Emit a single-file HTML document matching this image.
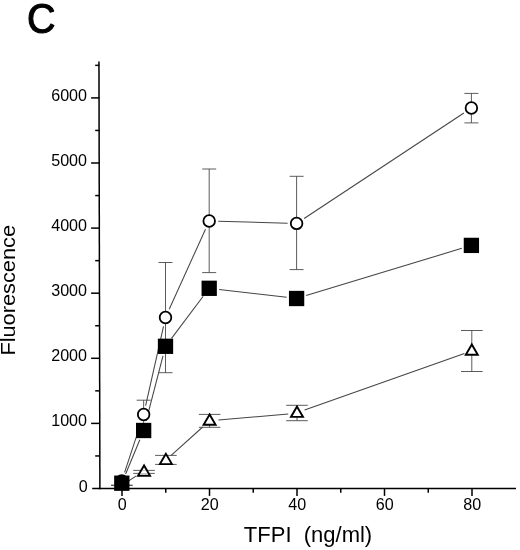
<!DOCTYPE html>
<html><head><meta charset="utf-8"><title>C</title>
<style>
html,body{margin:0;padding:0;background:#fff;}
body{width:520px;height:550px;overflow:hidden;font-family:"Liberation Sans",sans-serif;}
svg{display:block;will-change:transform;}
text{font-family:"Liberation Sans",sans-serif;fill:#000;}
</style></head><body>
<svg width="520" height="550" viewBox="0 0 520 550">
<rect width="520" height="550" fill="#fff"/>

<text transform="translate(26.9,33.4) scale(0.985,1.078)" font-size="40" stroke="#000" stroke-width="1.1" stroke-linejoin="round">C</text>
<g stroke="#000" stroke-width="1.5" fill="none">
<line x1="98.95" y1="61.4" x2="99.9" y2="489.25"/>
<line x1="98.7" y1="488.5" x2="516" y2="488.5"/>
<line x1="92.2" y1="488.50" x2="99.4" y2="488.50"/>
<line x1="95.2" y1="455.95" x2="99.4" y2="455.95"/>
<line x1="91.1" y1="423.40" x2="99.4" y2="423.40"/>
<line x1="95.2" y1="390.85" x2="99.4" y2="390.85"/>
<line x1="91.1" y1="358.30" x2="99.4" y2="358.30"/>
<line x1="95.2" y1="325.75" x2="99.4" y2="325.75"/>
<line x1="91.1" y1="293.20" x2="99.4" y2="293.20"/>
<line x1="95.2" y1="260.65" x2="99.4" y2="260.65"/>
<line x1="91.1" y1="228.10" x2="99.4" y2="228.10"/>
<line x1="95.2" y1="195.55" x2="99.4" y2="195.55"/>
<line x1="91.1" y1="163.00" x2="99.4" y2="163.00"/>
<line x1="95.2" y1="130.45" x2="99.4" y2="130.45"/>
<line x1="91.1" y1="97.90" x2="99.4" y2="97.90"/>
<line x1="95.2" y1="65.35" x2="99.4" y2="65.35"/>
<line x1="122.00" y1="488.5" x2="122.00" y2="495.9"/>
<line x1="165.75" y1="488.5" x2="165.75" y2="492.7"/>
<line x1="209.50" y1="488.5" x2="209.50" y2="495.9"/>
<line x1="253.25" y1="488.5" x2="253.25" y2="492.7"/>
<line x1="297.00" y1="488.5" x2="297.00" y2="495.9"/>
<line x1="340.75" y1="488.5" x2="340.75" y2="492.7"/>
<line x1="384.50" y1="488.5" x2="384.50" y2="495.9"/>
<line x1="428.25" y1="488.5" x2="428.25" y2="492.7"/>
<line x1="472.00" y1="488.5" x2="472.00" y2="495.9"/>
</g>
<text x="87.8" y="491.90" font-size="16.1" text-anchor="end">0</text>
<text x="87" y="426.20" font-size="16.1" text-anchor="end">1000</text>
<text x="87" y="361.10" font-size="16.1" text-anchor="end">2000</text>
<text x="87" y="296.00" font-size="16.1" text-anchor="end">3000</text>
<text x="87" y="230.90" font-size="16.1" text-anchor="end">4000</text>
<text x="87" y="165.80" font-size="16.1" text-anchor="end">5000</text>
<text x="87" y="100.70" font-size="16.1" text-anchor="end">6000</text>
<text x="122.30" y="510.1" font-size="16.1" text-anchor="middle">0</text>
<text x="209.80" y="510.1" font-size="16.1" text-anchor="middle">20</text>
<text x="297.30" y="510.1" font-size="16.1" text-anchor="middle">40</text>
<text x="384.80" y="510.1" font-size="16.1" text-anchor="middle">60</text>
<text x="472.30" y="510.1" font-size="16.1" text-anchor="middle">80</text>
<text transform="translate(15.2,290.3) rotate(-90) scale(1.1,1)" font-size="19.8" text-anchor="middle">Fluorescence</text>
<text x="308" y="542.3" font-size="22" text-anchor="middle" xml:space="preserve">TFPI  (ng/ml)</text>
<line x1="122" y1="485.3" x2="136.3" y2="475.9" stroke="#454545" stroke-width="1.05"/>
<line x1="170.9" y1="455.6" x2="202.7" y2="427.0" stroke="#454545" stroke-width="1.05"/>
<line x1="218.4" y1="420.1" x2="288.2" y2="413.9" stroke="#454545" stroke-width="1.05"/>
<line x1="304.6" y1="410.1" x2="464.4" y2="353.6" stroke="#454545" stroke-width="1.05"/>
<line x1="124.61" y1="472.45" x2="140.84" y2="423.05" stroke="#454545" stroke-width="1.05"/>
<line x1="145.63" y1="405.72" x2="163.52" y2="326.28" stroke="#454545" stroke-width="1.05"/>
<line x1="169.21" y1="309.30" x2="205.49" y2="229.20" stroke="#454545" stroke-width="1.05"/>
<line x1="218.20" y1="221.25" x2="287.60" y2="223.15" stroke="#454545" stroke-width="1.05"/>
<line x1="304.11" y1="218.44" x2="463.89" y2="112.96" stroke="#454545" stroke-width="1.05"/>
<line x1="125.63" y1="473.96" x2="139.82" y2="439.74" stroke="#454545" stroke-width="1.05"/>
<line x1="146.16" y1="420.82" x2="162.99" y2="355.98" stroke="#454545" stroke-width="1.05"/>
<line x1="171.52" y1="338.31" x2="203.18" y2="296.29" stroke="#454545" stroke-width="1.05"/>
<line x1="219.13" y1="289.46" x2="286.67" y2="297.34" stroke="#454545" stroke-width="1.05"/>
<line x1="306.17" y1="295.59" x2="461.83" y2="248.31" stroke="#454545" stroke-width="1.05"/>
<line x1="121.80" y1="485.3" x2="121.80" y2="485.3" stroke="#4a4a4a" stroke-width="0.9"/>
<line x1="111.00" y1="485.3" x2="132.60" y2="485.3" stroke="#4a4a4a" stroke-width="0.9"/>
<line x1="111.00" y1="485.3" x2="132.60" y2="485.3" stroke="#4a4a4a" stroke-width="0.9"/>
<line x1="144.05" y1="470.4" x2="144.05" y2="473.4" stroke="#4a4a4a" stroke-width="0.9"/>
<line x1="133.25" y1="470.4" x2="154.85" y2="470.4" stroke="#4a4a4a" stroke-width="0.9"/>
<line x1="133.25" y1="473.4" x2="154.85" y2="473.4" stroke="#4a4a4a" stroke-width="0.9"/>
<line x1="165.90" y1="455.4" x2="165.90" y2="464.4" stroke="#4a4a4a" stroke-width="0.9"/>
<line x1="155.10" y1="455.4" x2="176.70" y2="455.4" stroke="#4a4a4a" stroke-width="0.9"/>
<line x1="155.10" y1="464.4" x2="176.70" y2="464.4" stroke="#4a4a4a" stroke-width="0.9"/>
<line x1="209.60" y1="414.4" x2="209.60" y2="427.3" stroke="#4a4a4a" stroke-width="0.9"/>
<line x1="198.80" y1="414.4" x2="220.40" y2="414.4" stroke="#4a4a4a" stroke-width="0.9"/>
<line x1="198.80" y1="427.3" x2="220.40" y2="427.3" stroke="#4a4a4a" stroke-width="0.9"/>
<line x1="297.00" y1="405.3" x2="297.00" y2="420.7" stroke="#4a4a4a" stroke-width="0.9"/>
<line x1="286.20" y1="405.3" x2="307.80" y2="405.3" stroke="#4a4a4a" stroke-width="0.9"/>
<line x1="286.20" y1="420.7" x2="307.80" y2="420.7" stroke="#4a4a4a" stroke-width="0.9"/>
<line x1="471.80" y1="330.5" x2="471.80" y2="371.5" stroke="#4a4a4a" stroke-width="0.9"/>
<line x1="461.00" y1="330.5" x2="482.60" y2="330.5" stroke="#4a4a4a" stroke-width="0.9"/>
<line x1="461.00" y1="371.5" x2="482.60" y2="371.5" stroke="#4a4a4a" stroke-width="0.9"/>
<line x1="143.65" y1="400.2" x2="143.65" y2="428.5" stroke="#4a4a4a" stroke-width="0.9"/>
<line x1="136.65" y1="400.2" x2="150.65" y2="400.2" stroke="#4a4a4a" stroke-width="0.9"/>
<line x1="165.50" y1="262.5" x2="165.50" y2="372.7" stroke="#4a4a4a" stroke-width="0.9"/>
<line x1="158.50" y1="262.5" x2="172.50" y2="262.5" stroke="#4a4a4a" stroke-width="0.9"/>
<line x1="158.50" y1="372.7" x2="172.50" y2="372.7" stroke="#4a4a4a" stroke-width="0.9"/>
<line x1="209.20" y1="169" x2="209.20" y2="272.6" stroke="#4a4a4a" stroke-width="0.9"/>
<line x1="202.20" y1="169" x2="216.20" y2="169" stroke="#4a4a4a" stroke-width="0.9"/>
<line x1="202.20" y1="272.6" x2="216.20" y2="272.6" stroke="#4a4a4a" stroke-width="0.9"/>
<line x1="296.60" y1="176.3" x2="296.60" y2="269.6" stroke="#4a4a4a" stroke-width="0.9"/>
<line x1="289.60" y1="176.3" x2="303.60" y2="176.3" stroke="#4a4a4a" stroke-width="0.9"/>
<line x1="289.60" y1="269.6" x2="303.60" y2="269.6" stroke="#4a4a4a" stroke-width="0.9"/>
<line x1="471.40" y1="93.4" x2="471.40" y2="122.9" stroke="#4a4a4a" stroke-width="0.9"/>
<line x1="464.40" y1="93.4" x2="478.40" y2="93.4" stroke="#4a4a4a" stroke-width="0.9"/>
<line x1="464.40" y1="122.9" x2="478.40" y2="122.9" stroke="#4a4a4a" stroke-width="0.9"/>
<polygon points="144.05,465.50 138.05,475.80 150.05,475.80" fill="#fff" stroke="#000" stroke-width="1.9" stroke-linejoin="miter"/>
<polygon points="165.90,453.80 159.90,464.10 171.90,464.10" fill="#fff" stroke="#000" stroke-width="1.9" stroke-linejoin="miter"/>
<polygon points="209.60,414.50 203.60,424.80 215.60,424.80" fill="#fff" stroke="#000" stroke-width="1.9" stroke-linejoin="miter"/>
<polygon points="297.00,406.60 291.00,416.90 303.00,416.90" fill="#fff" stroke="#000" stroke-width="1.9" stroke-linejoin="miter"/>
<polygon points="471.80,344.40 465.80,354.70 477.80,354.70" fill="#fff" stroke="#000" stroke-width="1.9" stroke-linejoin="miter"/>
<line x1="141.85" y1="470.4" x2="146.25" y2="470.4" stroke="#888" stroke-width="0.8" opacity="0.6"/>
<line x1="140.25" y1="473.4" x2="147.85" y2="473.4" stroke="#888" stroke-width="0.8" opacity="0.6"/>
<circle cx="121.80" cy="481" r="5.8" fill="#fff" stroke="#000" stroke-width="1.8"/>
<circle cx="143.65" cy="414.5" r="5.8" fill="#fff" stroke="#000" stroke-width="1.8"/>
<circle cx="165.50" cy="317.5" r="5.8" fill="#fff" stroke="#000" stroke-width="1.8"/>
<circle cx="209.20" cy="221" r="5.8" fill="#fff" stroke="#000" stroke-width="1.8"/>
<circle cx="296.60" cy="223.4" r="5.8" fill="#fff" stroke="#000" stroke-width="1.8"/>
<circle cx="471.40" cy="108" r="5.8" fill="#fff" stroke="#000" stroke-width="1.8"/>
<rect x="114.15" y="475.55" width="15.3" height="15.3" fill="#000"/>
<rect x="136.00" y="422.85" width="15.3" height="15.3" fill="#000"/>
<rect x="157.85" y="338.65" width="15.3" height="15.3" fill="#000"/>
<rect x="201.55" y="280.65" width="15.3" height="15.3" fill="#000"/>
<rect x="288.95" y="290.85" width="15.3" height="15.3" fill="#000"/>
<rect x="463.75" y="237.75" width="15.3" height="15.3" fill="#000"/>
</svg></body></html>
